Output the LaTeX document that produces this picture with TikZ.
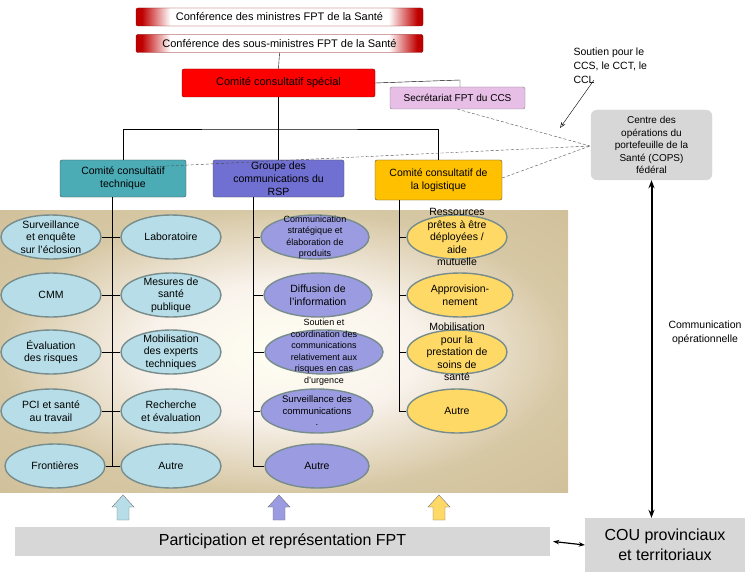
\documentclass[tikz,border=0pt]{standalone}
\usepackage{fontspec}
\setmainfont{Liberation Sans}
\usetikzlibrary{shapes.geometric,arrows.meta}
\definecolor{tealb}{RGB}{75,172,182}
\definecolor{tealL}{RGB}{183,222,232}
\definecolor{purp}{RGB}{112,112,210}
\definecolor{purpL}{RGB}{155,155,225}
\definecolor{yel}{RGB}{255,192,0}
\definecolor{yelL}{RGB}{255,217,102}
\definecolor{grayb}{RGB}{215,215,215}
\definecolor{pinkb}{RGB}{230,190,230}
\definecolor{edge}{RGB}{120,140,140}
\pgfdeclarehorizontalshading{redwhite}{100bp}{color(0bp)=(red!75!black); color(25bp)=(red!75!black); color(26bp)=(red!75!black); color(31bp)=(white); color(69bp)=(white); color(74bp)=(red!75!black); color(100bp)=(red!75!black)}
\pgfdeclareradialshading{panel}{\pgfpoint{0bp}{0bp}}{color(0bp)=(white!95!yellow); color(12bp)=(white!90!brown); color(25bp)=({rgb,255:red,215;green,200;blue,165}); color(50bp)=({rgb,255:red,200;green,182;blue,140})}
\begin{document}
\begin{tikzpicture}[x=1pt,y=-1pt,
  box/.style={draw=black!70,rounded corners=2pt,align=center,inner sep=1pt},
  conf/.style={box,draw=red!50!black,shading=redwhite,minimum width=287,minimum height=18,font=\fontsize{11}{12}\selectfont},
  ell/.style={ellipse,draw=edge,line width=1.4pt,minimum width=100,minimum height=44,inner sep=0},
  lab/.style={align=center,font=\fontsize{10.5}{12.5}\selectfont},
  dsh/.style={densely dashed,black!70}]
\useasboundingbox (0,0) rectangle (750,575);
\shade[shading=panel] (0,210) rectangle (568,492);
\node[conf] (m) at (279.5,17) {Conférence des ministres FPT de la Santé};
\node[conf] (sm) at (279.5,43.5) {Conférence des sous-ministres FPT de la Santé};
\node[box,fill=red,draw=red!50!black,minimum width=193,minimum height=28,font=\fontsize{11}{12}\selectfont] (ccs) at (278.5,83) {Comité consultatif spécial};
\node[box,fill=pinkb,draw=black!50,minimum width=135,minimum height=22,font=\fontsize{10}{11}\selectfont] (sec) at (457.5,98) {Secrétariat FPT du CCS};
\node[box,fill=tealb,minimum width=126,minimum height=37,font=\fontsize{10.5}{13}\selectfont] (cct) at (123,178.5) {Comité consultatif\\technique};
\node[box,fill=purp,minimum width=131,minimum height=37,font=\fontsize{10.5}{13}\selectfont] (grp) at (278.5,178.5) {Groupe des\\communications du\\RSP};
\node[box,fill=yel,minimum width=127,minimum height=40,font=\fontsize{10.5}{13}\selectfont] (ccl) at (438.5,180) {Comité consultatif de\\la logistique};
\node[box,fill=grayb,draw=grayb,rounded corners=6pt,minimum width=121,minimum height=70,font=\fontsize{10}{12.5}\selectfont] (cops) at (651.5,145) {Centre des\\opérations du\\portefeuille de la\\Santé (COPS)\\fédéral};
\node[align=left,font=\fontsize{10.5}{14}\selectfont,anchor=north west] (sout) at (570,44) {Soutien pour le\\CCS, le CCT, le\\CCL};
\coordinate (tip) at (560,128);
\draw[-{Stealth[length=6pt,open]}] (594,80) -- (tip);
\draw (sm.south) -- (ccs.north);
\draw (ccs.east) -- (460,80) -- (460,87);
\draw (ccs.south) -- (278.5,129);
\draw (cct.north) |- (278.5,129) -| (ccl.north);
\draw (278.5,129) -- (grp.north);
\coordinate (cv) at (590,146);
\draw[dsh] (sec.south) -- (cv);
\draw[dsh] (146,167) -- (cv);
\draw[dsh] (ccl.east) ++(0,-2) -- (cv);
% columns
\draw (112,197) -- (112,466);
\draw (253,197) -- (253,466);
\draw (399,200) -- (399,411);
\foreach \y/\na/\ta/\nb/\tb in {237/a1/{Surveillance\\et enquête\\sur l'éclosion}/b1/Laboratoire,
  295/a2/CMM/b2/{Mesures de\\santé\\publique},
  352/a3/{Évaluation\\des risques}/b3/{Mobilisation\\des experts\\techniques},
  411/a4/{PCI et santé\\au travail}/b4/{Recherche\\et évaluation}}{
  \node[ell,fill=tealL,label={[lab]center:\ta}] (\na) at (51,\y) {};
  \node[ell,fill=tealL,label={[lab]center:\tb}] (\nb) at (171,\y) {};
  \draw (\na.east) -- (\nb.west);}
\node[ell,fill=tealL,label={[lab]center:Frontières}] (a5) at (55,466) {};
\node[ell,fill=tealL,label={[lab]center:Autre}] (b5) at (171,466) {};
\draw (a5.east) -- (b5.west);
% purple
\node[ell,fill=purpL,minimum width=108,label={[lab,font=\fontsize{9}{11.5}\selectfont]center:Communication\\stratégique et\\élaboration de\\produits}] (p1) at (315,237) {};
\node[ell,fill=purpL,minimum width=108,label={[lab]center:Diffusion de\\l'information}] (p2) at (318,295) {};
\node[ell,fill=purpL,minimum width=118,label={[lab,font=\fontsize{9}{11.5}\selectfont]center:Soutien et\\coordination des\\communications\\relativement aux\\risques en cas\\d'urgence}] (p3) at (324,352) {};
\node[ell,fill=purpL,minimum width=112,label={[lab,font=\fontsize{9.5}{11.5}\selectfont]center:Surveillance des\\communications\\.}] (p4) at (317,411) {};
\node[ell,fill=purpL,minimum width=104,label={[lab]center:Autre}] (p5) at (317,466) {};
\foreach \n in {p1,p2,p3,p4,p5}{\draw (253,0 |- \n.west) -- (\n.west);}
% yellow
\node[ell,fill=yelL,label={[lab]center:Ressources\\prêtes à être\\déployées /\\aide\\mutuelle}] (y1) at (457,237) {};
\node[ell,fill=yelL,minimum width=106,label={[lab]center:Approvision-\\nement}] (y2) at (460,295) {};
\node[ell,fill=yelL,label={[lab]center:Mobilisation\\pour la\\prestation de\\soins de\\santé}] (y3) at (457,352) {};
\node[ell,fill=yelL,label={[lab]center:Autre}] (y4) at (457,411) {};
\foreach \n in {y1,y2,y3,y4}{\draw (399,0 |- \n.west) -- (\n.west);}
% bottom up arrows
\foreach \x/\c in {123/tealL,279/purpL,439/yelL}{
  \draw[draw=black!55,fill=\c] (\x-6,520) -- (\x-6,507) -- (\x-11,507) -- (\x,495) -- (\x+11,507) -- (\x+6,507) -- (\x+6,520) -- cycle;}
\node[fill=grayb,minimum width=535,minimum height=29,font=\fontsize{16}{18}\selectfont] (fpt) at (282.5,541.5) {Participation et représentation FPT};
\node[fill=grayb,minimum width=160,minimum height=54,align=center,font=\fontsize{16}{20}\selectfont] (cou) at (665,545) {COU provinciaux\\et territoriaux};
\draw[{Stealth[length=6pt]}-{Stealth[length=6pt]},line width=1.2pt] (fpt.east) ++(3,0) -- (cou.west);
\draw[{Stealth[length=8pt]}-{Stealth[length=8pt]},line width=2pt] (cops.south) -- (cops.south |- cou.north);
\node[align=center,font=\fontsize{10.5}{14}\selectfont] (opl) at (705,333) {Communication\\opérationnelle};
\end{tikzpicture}
\end{document}
